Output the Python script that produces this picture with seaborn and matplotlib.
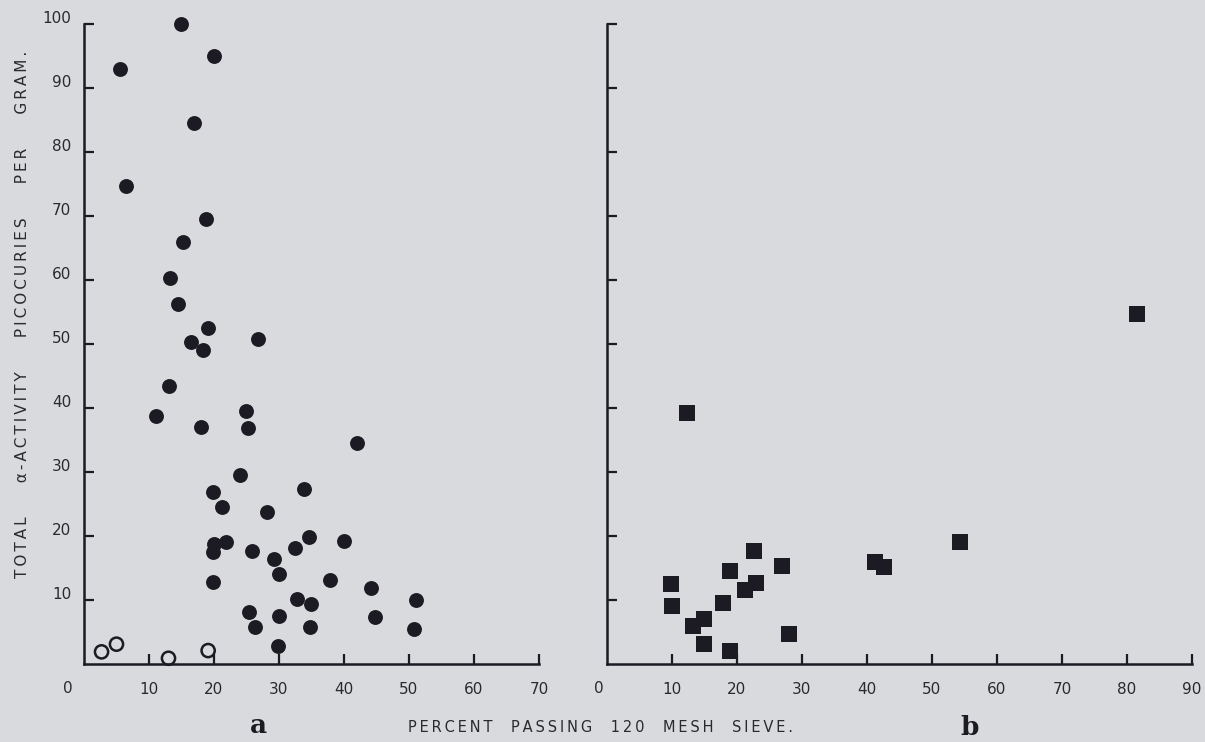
import matplotlib
matplotlib.use("Agg")
import matplotlib.pyplot as plt
import matplotlib.transforms as mtransforms
import seaborn as sns
import pandas as pd

# panel a: filled circles
a_x = [15, 20, 5.5, 17, 6.5, 18.8, 15.2, 13.2, 14.5, 19.1, 26.8, 16.5, 18.3, 13.1,
       25, 11.1, 18, 25.2, 42, 24, 33.9, 19.9, 21.2, 28.2, 34.6, 40, 21.8, 20,
       32.5, 19.9, 25.8, 29.3, 30, 37.8, 19.8, 44.1, 51.1, 32.8, 35, 25.4, 30,
       44.8, 26.3, 34.7, 50.7, 29.8]
a_y = [100, 95, 93, 84.5, 74.7, 69.5, 66, 60.3, 56.2, 52.5, 50.8, 50.3, 49, 43.5,
       39.5, 38.8, 37, 36.9, 34.5, 29.5, 27.4, 26.9, 24.5, 23.8, 19.8, 19.3, 19.1, 18.7,
       18.1, 17.5, 17.6, 16.4, 14.1, 13.2, 12.8, 11.8, 10, 10.2, 9.4, 8.2, 7.5,
       7.4, 5.8, 5.8, 5.4, 2.8]
# panel a: open circles
a_open_x = [2.7, 5, 13, 19.1]
a_open_y = [1.9, 3.1, 0.9, 2.1]
# panel b: squares
b_x = [12.3, 22.6, 26.9, 18.9, 41.2, 42.6, 9.8, 23.0, 21.3, 10.0, 17.9, 15.0,
       13.2, 14.9, 18.9, 28.0, 54.3, 81.6]
b_y = [39.3, 17.7, 15.3, 14.5, 16.0, 15.1, 12.5, 12.7, 11.6, 9.0, 9.6, 7.1,
       6.0, 3.2, 2.1, 4.7, 19.1, 54.7]

a_xticks = [10, 20, 30, 40, 50, 60, 70]
b_xticks = [10, 20, 30, 40, 50, 60, 70, 80, 90]
yticks = [10, 20, 30, 40, 50, 60, 70, 80, 90, 100]

ylabel_words = ["TOTAL", "\u03b1-ACTIVITY", "PICOCURIES", "PER", "GRAM."]
xlabel_words = ["PERCENT", "PASSING", "120", "MESH", "SIEVE."]

bg = "#d8dadd"
ink = "#1c1a22"
txt = "#2a2a2e"


def spaced(words, gap):
    # old typewriter look: thin space between letters, wide gaps between words
    return gap.join("\u2009".join(w) for w in words)


sns.set_theme(style="ticks")
plt.rcParams["font.family"] = ["DejaVu Sans"]

fig = plt.figure(figsize=(12.05, 7.42), dpi=100, facecolor=bg)
ax1 = fig.add_axes([0.0697, 0.1051, 0.3776, 0.8625], facecolor=bg)
ax2 = fig.add_axes([0.5037, 0.1051, 0.4855, 0.8625], facecolor=bg)

df_a = pd.DataFrame({"x": a_x, "y": a_y})
df_open = pd.DataFrame({"x": a_open_x, "y": a_open_y})
df_b = pd.DataFrame({"x": b_x, "y": b_y})

sns.scatterplot(data=df_a, x="x", y="y", ax=ax1, marker="o", s=115,
                color=ink, edgecolor=ink, linewidth=0, zorder=3, clip_on=False)
sns.scatterplot(data=df_open, x="x", y="y", ax=ax1, marker="o", s=90,
                facecolor="none", edgecolor=ink, linewidth=1.8, zorder=3, clip_on=False)
sns.scatterplot(data=df_b, x="x", y="y", ax=ax2, marker="s", s=120,
                color=ink, edgecolor=ink, linewidth=0, zorder=3, clip_on=False)

for ax, xmax, xt, zx in [(ax1, 70, a_xticks, -11.5), (ax2, 90, b_xticks, -6)]:
    ax.set_xlim(0, xmax)
    ax.set_ylim(0, 100)
    sns.despine(ax=ax)
    for side in ["left", "bottom"]:
        ax.spines[side].set_linewidth(1.8)
        ax.spines[side].set_color(ink)
    ax.set_xticks(xt)
    ax.set_xticklabels([str(v) for v in xt])
    ax.set_yticks(yticks)
    ax.tick_params(direction="in", length=7, width=1.6, color=ink,
                   labelsize=11, labelcolor=txt)
    ax.tick_params(axis="x", pad=13)
    ax.tick_params(axis="y", pad=9)
    ax.set_xlabel("")
    ax.set_ylabel("")
    # zero label sits off the corner
    ax.annotate("0", xy=(0, 0), xycoords="data", xytext=(zx, -17.3),
                textcoords="offset points", ha="center", va="center",
                fontsize=11, color=txt)

ax1.set_yticklabels([str(v) for v in yticks])
ax2.set_yticklabels([])

shift = mtransforms.ScaledTranslation(0, 5 / 72, fig.dpi_scale_trans)
for lab in ax1.get_yticklabels():
    lab.set_transform(lab.get_transform() + shift)

fig.text(0.0183, 1 - 314 / 742, spaced(ylabel_words, "       "),
         rotation=90, ha="center", va="center", fontsize=11, color=txt)
fig.text(600 / 1205, 0.0189, spaced(xlabel_words, "    "),
         ha="center", va="center", fontsize=10.5, color=txt)
fig.text(258 / 1205, 0.0216, "a", ha="center", va="center", fontsize=19,
         fontweight="bold", family=["DejaVu Serif"], color=ink)
fig.text(970 / 1205, 0.0202, "b", ha="center", va="center", fontsize=19,
         fontweight="bold", family=["DejaVu Serif"], color=ink)

fig.savefig("out.png", dpi=100, facecolor=bg)
